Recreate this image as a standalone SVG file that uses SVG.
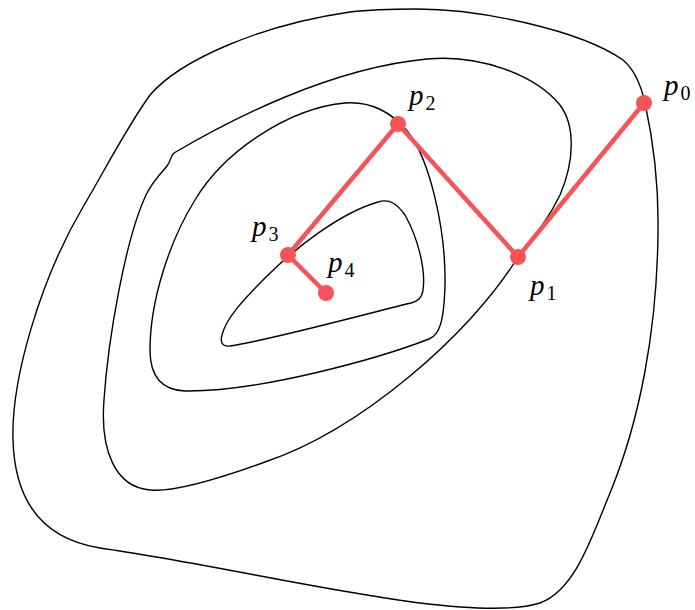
<svg xmlns="http://www.w3.org/2000/svg" width="695" height="610" viewBox="0 0 695 610">
<style>
.c{fill:none;stroke:#000;stroke-width:1.4}
.r{fill:none;stroke:#f55356;stroke-width:4.5;stroke-linejoin:round}
.d{fill:#f55356}
.v{font-family:"Liberation Serif","DejaVu Serif",serif;font-style:italic;font-size:29px;fill:#000}
.s{font-family:"Liberation Serif","DejaVu Serif",serif;font-size:20px;font-style:normal}
</style>
<g id="contours">
<path id="c1" class="c" d="M417,9 C480,9 580,30 623,60 C635,70 641,85 645,103 C652,135 659,180 658,233 C657,330 640,420 610,493 C591,539 575,590 540,603 C515,611 470,609 420,603 C330,592 200,562 100,548 C50,540 15,510 13,440 C11,380 40,280 83,207 C105,170 125,130 150,95 C180,60 260,25 350,12 C375,9 395,9 417,9 Z"/>
<path id="c2" class="c" d="M427,59 C480,54 535,75 560,105 C575,125 575,160 560,195 C548,220 535,235 518,257 C470,335 360,430 265,462 C210,482 170,492 150,490 C115,487 100,450 104,400 C108,340 125,240 146,195 C152,182 162,172 167,166 C171,161 170,157 174,153 C230,120 330,68 427,59 Z"/>
<path id="c3" class="c" d="M345,103 C370,101 392,112 408,132 C430,160 446,230 445,285 C444,320 440,335 429,339 C380,358 260,392 185,391 C160,390 150,375 150,350 C150,300 170,240 195,200 C225,150 290,108 345,103 Z"/>
<path id="c4" class="c" d="M378,202 C390,198 398,205 405,215 C418,238 426,270 423,290 C422,298 418,301 411,303 C350,318 270,340 230,346 C222,347 220,342 222,335 C226,318 245,298 265,278 C295,248 340,213 378,202 Z"/>
</g>
<g id="connectors">
<polyline class="r" points="644,103 518,257 398,124 288,255 326,293"/>
</g>
<g id="p0"><circle class="d" cx="644" cy="103" r="8"/><text class="v" x="664" y="95">p<tspan class="s" dx="2" dy="5">0</tspan></text></g>
<g id="p1"><circle class="d" cx="518" cy="257" r="8"/><text class="v" x="530" y="295">p<tspan class="s" dx="2" dy="5">1</tspan></text></g>
<g id="p2"><circle class="d" cx="398" cy="124" r="8"/><text class="v" x="409" y="105">p<tspan class="s" dx="2" dy="5">2</tspan></text></g>
<g id="p3"><circle class="d" cx="288" cy="255" r="8"/><text class="v" x="252" y="236">p<tspan class="s" dx="2" dy="5">3</tspan></text></g>
<g id="p4"><circle class="d" cx="326" cy="293" r="8"/><text class="v" x="328" y="272">p<tspan class="s" dx="2" dy="5">4</tspan></text></g>
</svg>
